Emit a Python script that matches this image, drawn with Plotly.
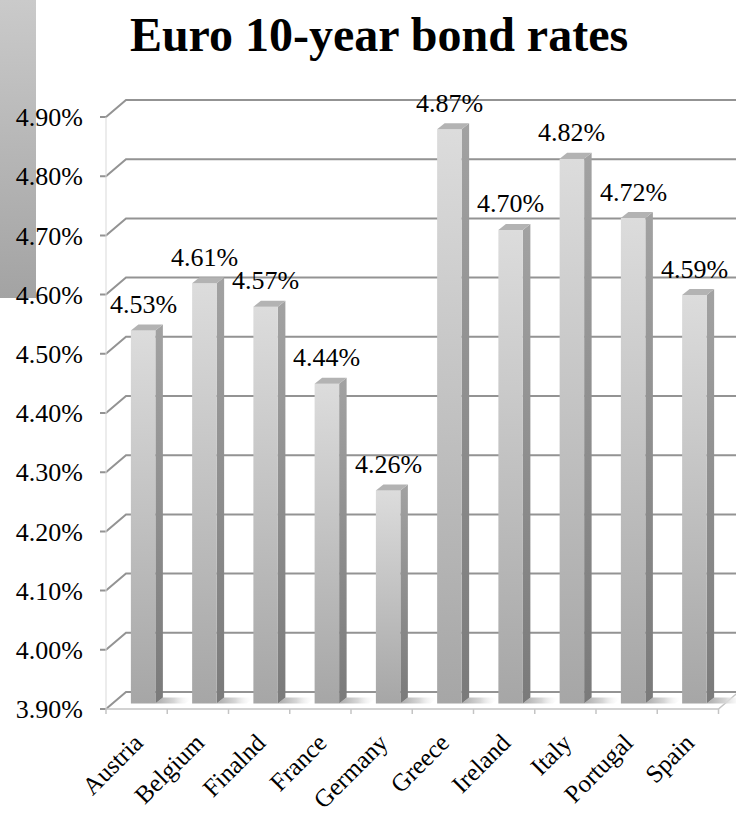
import base64
import plotly.graph_objects as go

# ---------------- data ----------------
countries = ["Austria", "Belgium", "Finalnd", "France", "Germany",
             "Greece", "Ireland", "Italy", "Portugal", "Spain"]
rates = [4.53, 4.61, 4.57, 4.44, 4.26, 4.87, 4.70, 4.82, 4.72, 4.59]
y_ticks = [3.90, 4.00, 4.10, 4.20, 4.30, 4.40, 4.50, 4.60, 4.70, 4.80, 4.90]
y_tick_text = [f"{v:.2f}%" for v in y_ticks]
title_text = "Euro 10-year bond rates"

# ---------------- geometry (pixels -> data) ----------------
W, H = 736, 815
PL, PR, PT, PB = 100, 736, 80, 716      # plot area in px
X_PX = 61.25                            # px per category
Y_PX = 592.0                            # px per 1.00 (%)
X0_PX = 106                             # px of front-left boundary
Y0_PX = 709                             # px of base value
BASE = y_ticks[0]
TOP = y_ticks[-1]
n = len(countries)

xmin = -0.5 - (X0_PX - PL) / X_PX
xmax = xmin + (PR - PL) / X_PX
ymin = BASE - (PB - Y0_PX) / Y_PX
ymax = BASE + (Y0_PX - PT) / Y_PX


def dx(px):
    return px / X_PX


def dy(px):
    return px / Y_PX


WALL_DX, WALL_DY = dx(20), dy(17)
BAR_SHIFT_X, BAR_SHIFT_Y = dx(6.5), dy(5.5)
BAR_W = dx(24.5)
BAR_DDX, BAR_DDY = dx(7.5), dy(6)

FONT = "Liberation Serif"

fig = go.Figure()

# ---- back wall / side wall gridlines ----
gx, gy = [], []
for v in y_ticks:
    gx += [-0.5 - dx(6), -0.5, -0.5 + WALL_DX, xmax + 1, None]
    gy += [v, v, v + WALL_DY, v + WALL_DY, None]
fig.add_trace(go.Scatter(x=gx, y=gy, mode="lines",
                         line=dict(color="#939393", width=2),
                         hoverinfo="skip", showlegend=False))

# front vertical axis line
fig.add_trace(go.Scatter(x=[-0.5, -0.5], y=[BASE, TOP], mode="lines",
                         line=dict(color="#d9d9d9", width=1),
                         hoverinfo="skip", showlegend=False))

# floor front line, right diagonal, boundary ticks
fx, fy = [-0.5, n - 0.5, n - 0.5 + WALL_DX, None], [BASE, BASE, BASE + WALL_DY, None]
for b in range(n + 1):
    fx += [b - 0.5, b - 0.5, None]
    fy += [BASE, BASE - dy(5), None]
fig.add_trace(go.Scatter(x=fx, y=fy, mode="lines",
                         line=dict(color="#c4c4c4", width=1.5),
                         hoverinfo="skip", showlegend=False))

# ---- bars (3D look) ----
for i, v in enumerate(rates):
    c = i
    xf0 = c - BAR_W / 2 + BAR_SHIFT_X
    xf1 = xf0 + BAR_W
    yb = BASE + BAR_SHIFT_Y
    yt = v + BAR_SHIFT_Y
    # floor shadow
    sw = dx(30)
    fig.add_trace(go.Scatter(
        x=[xf1, xf1 + BAR_DDX, xf1 + BAR_DDX + sw, xf1 + sw, xf1],
        y=[yb, yb + BAR_DDY, yb + BAR_DDY, yb, yb],
        mode="lines", line=dict(width=0), fill="toself",
        fillgradient=dict(type="horizontal",
                          colorscale=[[0, "#aaaaaa"], [0.5, "#d6d6d6"],
                                      [1, "rgba(255,255,255,0)"]]),
        hoverinfo="skip", showlegend=False))
    # side face
    fig.add_trace(go.Scatter(
        x=[xf1, xf1 + BAR_DDX, xf1 + BAR_DDX, xf1, xf1],
        y=[yb, yb + BAR_DDY, yt + BAR_DDY, yt, yb],
        mode="lines", line=dict(width=0), fill="toself",
        fillgradient=dict(type="vertical",
                          colorscale=[[0, "#7a7a7a"], [1, "#a2a2a2"]]),
        hoverinfo="skip", showlegend=False))
    # front face
    fig.add_trace(go.Scatter(
        x=[xf0, xf1, xf1, xf0, xf0],
        y=[yb, yb, yt, yt, yb],
        mode="lines", line=dict(width=0), fill="toself",
        fillgradient=dict(type="vertical",
                          colorscale=[[0, "#a6a6a6"], [1, "#dcdcdc"]]),
        name=countries[i], hovertemplate=f"{countries[i]}: {v:.2f}%<extra></extra>",
        showlegend=False))
    # top face
    fig.add_trace(go.Scatter(
        x=[xf0, xf1, xf1 + BAR_DDX, xf0 + BAR_DDX, xf0],
        y=[yt, yt, yt + BAR_DDY, yt + BAR_DDY, yt],
        mode="lines", line=dict(width=0), fill="toself", fillcolor="#b3b3b3",
        hoverinfo="skip", showlegend=False))
    # value label
    fig.add_annotation(x=c + BAR_SHIFT_X, y=yt, text=f"{v:.2f}%",
                       showarrow=False, xanchor="center", yanchor="middle",
                       yshift=26, font=dict(family=FONT, size=26, color="black"))

# ---- gradient strip top-left ----
svg = ('<svg xmlns="http://www.w3.org/2000/svg" width="36" height="298">'
       '<defs><linearGradient id="g" x1="0" y1="0" x2="0" y2="1">'
       '<stop offset="0" stop-color="#cacaca"/><stop offset="1" stop-color="#a3a3a3"/>'
       '</linearGradient></defs><rect width="36" height="298" fill="url(#g)"/></svg>')
src = "data:image/svg+xml;base64," + base64.b64encode(svg.encode()).decode()
pw, ph = PR - PL, PB - PT
fig.add_layout_image(dict(source=src, xref="paper", yref="paper",
                          x=-PL / pw, y=1 + PT / ph, sizex=36 / pw, sizey=298 / ph,
                          xanchor="left", yanchor="top", sizing="stretch",
                          layer="below"))

fig.update_layout(
    width=W, height=H,
    margin=dict(l=PL, r=W - PR, t=PT, b=H - PB, autoexpand=False),
    paper_bgcolor="white", plot_bgcolor="rgba(0,0,0,0)",
    title=dict(text=f"<b>{title_text}</b>", x=379 / W, xanchor="center",
               y=1 - 34 / H, yanchor="middle", xref="container", yref="container",
               font=dict(family=FONT, size=48, color="black")),
    xaxis=dict(range=[xmin, xmax], tickvals=[i - dx(1) for i in range(n)],
               ticktext=countries,
               tickangle=-45, showgrid=False, zeroline=False, showline=False,
               ticks="", ticklabelstandoff=6, automargin=False,
               tickfont=dict(family=FONT, size=25, color="black")),
    yaxis=dict(range=[ymin, ymax], tickvals=y_ticks, ticktext=y_tick_text,
               showgrid=False, zeroline=False, showline=False, ticks="",
               ticklabelstandoff=16, automargin=False,
               tickfont=dict(family=FONT, size=26, color="black")),
    showlegend=False,
)

fig.write_html("out.html")
